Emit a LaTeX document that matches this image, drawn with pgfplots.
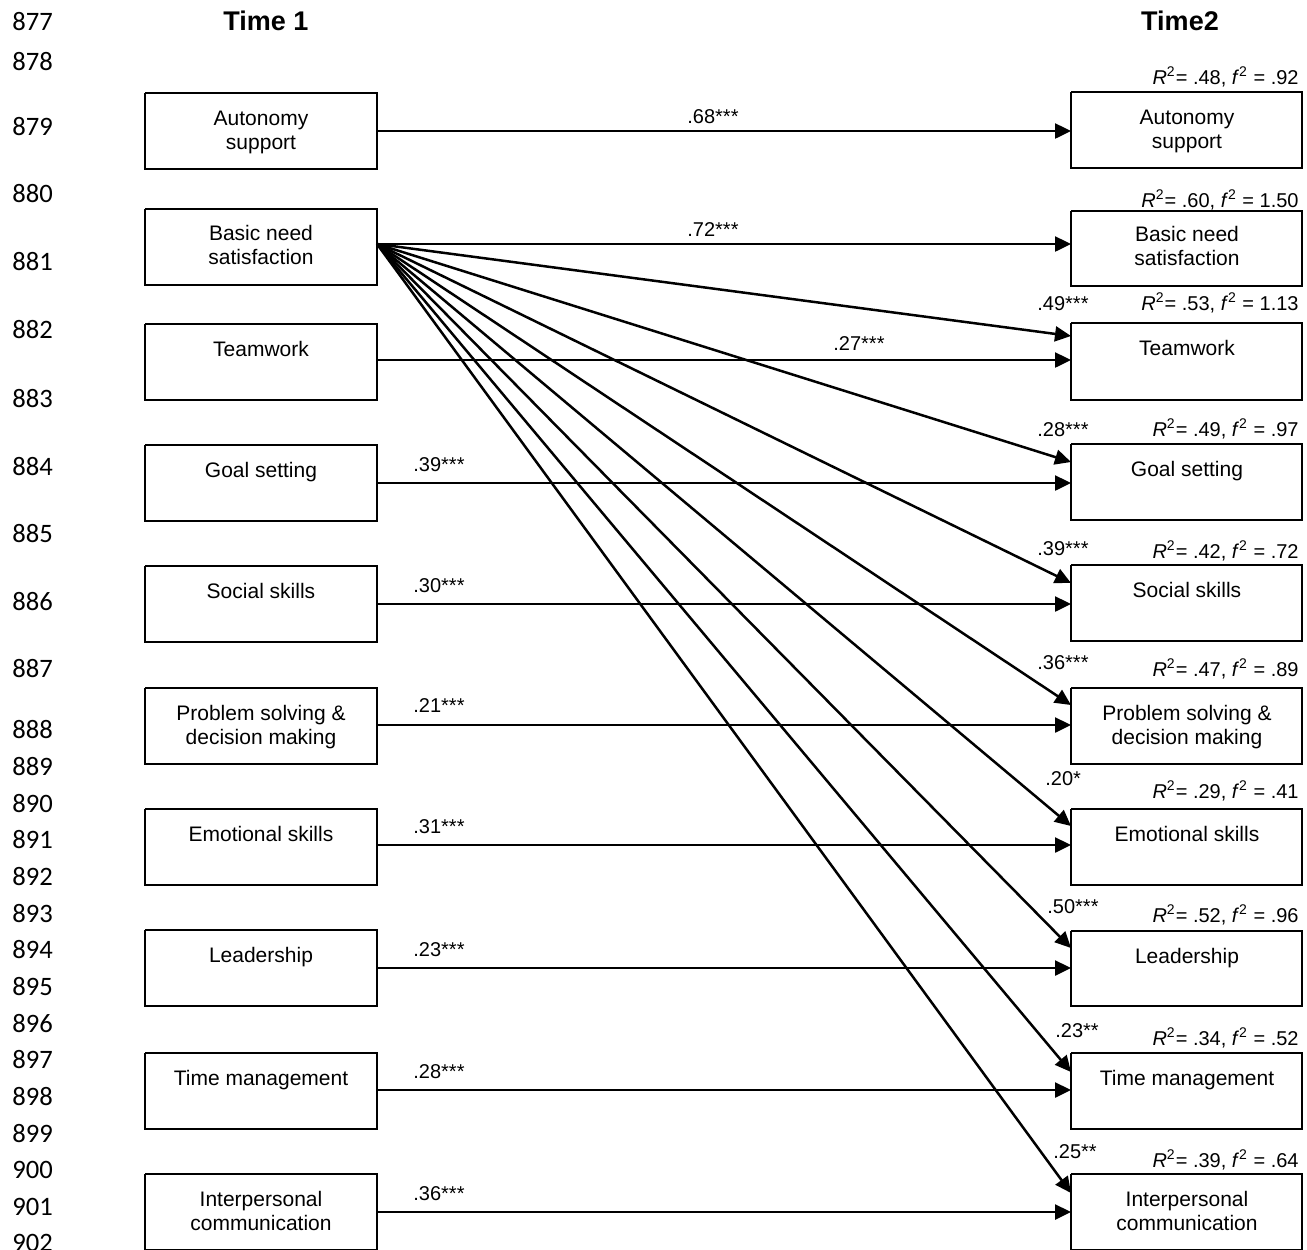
\documentclass[border=0pt]{standalone}
\usepackage{pgfplots}
\pgfplotsset{compat=1.18}
\usetikzlibrary{arrows.meta}
\usepackage{fontspec}
\setmainfont{Liberation Sans}
\newfontfamily\lnfont{Carlito}
\newcommand{\lbl}{\fontsize{10.5}{12}\selectfont}
\newcommand{\cf}{\fontsize{10}{12}\selectfont}
\newcommand{\lnf}{\lnfont\fontsize{13.3}{16}\selectfont}
\newcommand{\ttl}{\bfseries\fontsize{13.5}{16}\selectfont}
\tikzset{
  boxst/.style={draw=black, line width=0.8pt, line join=miter},
  arrst/.style={draw=black, line width=1.25pt, -{Triangle[length=8pt,width=7.5pt]}},
}
\newcommand{\bx}[4]{\addplot[boxst] coordinates {(#1,#3) (#2,#3) (#2,#4) (#1,#4) (#1,#3)};}
\newcommand{\ar}[4]{\addplot[arrst] coordinates {(#1,#2) (#3,#4)};}
\newcommand{\tx}[4]{\node[anchor=#1, inner sep=0pt, font=#2] at (axis cs:#3) {#4};}
\newcommand{\rsq}[3]{\node[anchor=base east, inner sep=0pt, font=\cf] at (axis cs:1299,#1) {\textit{R}\textsuperscript{2}= #2, \textit{f}\textsuperscript{2} = #3};}
\begin{document}
\begin{tikzpicture}
\useasboundingbox (0,0) rectangle (653.5pt,624.5pt);
\clip (0,0) rectangle (653.5pt,624.5pt);
\begin{axis}[at={(0,0)}, anchor=south west, scale only axis,
  width=653.5pt, height=624.5pt, xmin=0, xmax=1307, ymin=0, ymax=1249,
  y dir=reverse, hide axis, clip=false]

% line numbers
\tx{base west}{\lnf}{12,30}{877}
\tx{base west}{\lnf}{12,70}{878}
\tx{base west}{\lnf}{12,135}{879}
\tx{base west}{\lnf}{12,202}{880}
\tx{base west}{\lnf}{12,270}{881}
\tx{base west}{\lnf}{12,338}{882}
\tx{base west}{\lnf}{12,407}{883}
\tx{base west}{\lnf}{12,475}{884}
\tx{base west}{\lnf}{12,542}{885}
\tx{base west}{\lnf}{12,610}{886}
\tx{base west}{\lnf}{12,677}{887}
\tx{base west}{\lnf}{12,738}{888}
\tx{base west}{\lnf}{12,775}{889}
\tx{base west}{\lnf}{12,812}{890}
\tx{base west}{\lnf}{12,848}{891}
\tx{base west}{\lnf}{12,885}{892}
\tx{base west}{\lnf}{12,922}{893}
\tx{base west}{\lnf}{12,958}{894}
\tx{base west}{\lnf}{12,995}{895}
\tx{base west}{\lnf}{12,1032}{896}
\tx{base west}{\lnf}{12,1068}{897}
\tx{base west}{\lnf}{12,1105}{898}
\tx{base west}{\lnf}{12,1142}{899}
\tx{base west}{\lnf}{12,1178}{900}
\tx{base west}{\lnf}{12,1215}{901}
\tx{base west}{\lnf}{12,1251}{902}

% titles
\tx{base}{\ttl}{266,30}{Time 1}
\tx{base}{\ttl}{1180,30}{Time2}

% left boxes
\bx{145}{377}{93}{169}
\bx{145}{377}{209}{285}
\bx{145}{377}{324}{400}
\bx{145}{377}{445}{521}
\bx{145}{377}{566}{642}
\bx{145}{377}{688}{764}
\bx{145}{377}{809}{885}
\bx{145}{377}{930}{1006}
\bx{145}{377}{1053}{1129}
\bx{145}{377}{1174}{1250}
% right boxes
\bx{1071}{1302}{92}{168}
\bx{1071}{1302}{211}{286}
\bx{1071}{1302}{323}{400}
\bx{1071}{1302}{444}{520}
\bx{1071}{1302}{565}{641}
\bx{1071}{1302}{688}{764}
\bx{1071}{1302}{809}{885}
\bx{1071}{1302}{931}{1006}
\bx{1071}{1302}{1053}{1129}
\bx{1071}{1302}{1174}{1250}

% box labels (left, center x=261)
\tx{base}{\lbl}{261,125}{Autonomy}
\tx{base}{\lbl}{261,149}{support}
\tx{base}{\lbl}{261,240}{Basic need}
\tx{base}{\lbl}{261,264}{satisfaction}
\tx{base}{\lbl}{261,356}{Teamwork}
\tx{base}{\lbl}{261,477}{Goal setting}
\tx{base}{\lbl}{261,598}{Social skills}
\tx{base}{\lbl}{261,720}{Problem solving \&}
\tx{base}{\lbl}{261,744}{decision making}
\tx{base}{\lbl}{261,841}{Emotional skills}
\tx{base}{\lbl}{261,962}{Leadership}
\tx{base}{\lbl}{261,1085}{Time management}
\tx{base}{\lbl}{261,1206}{Interpersonal}
\tx{base}{\lbl}{261,1230}{communication}
% right labels (center x=1187)
\tx{base}{\lbl}{1187,124}{Autonomy}
\tx{base}{\lbl}{1187,148}{support}
\tx{base}{\lbl}{1187,241}{Basic need}
\tx{base}{\lbl}{1187,265}{satisfaction}
\tx{base}{\lbl}{1187,355}{Teamwork}
\tx{base}{\lbl}{1187,476}{Goal setting}
\tx{base}{\lbl}{1187,597}{Social skills}
\tx{base}{\lbl}{1187,720}{Problem solving \&}
\tx{base}{\lbl}{1187,744}{decision making}
\tx{base}{\lbl}{1187,841}{Emotional skills}
\tx{base}{\lbl}{1187,963}{Leadership}
\tx{base}{\lbl}{1187,1085}{Time management}
\tx{base}{\lbl}{1187,1206}{Interpersonal}
\tx{base}{\lbl}{1187,1230}{communication}

% horizontal stability paths
\ar{377}{131}{1071}{131}
\ar{377}{244}{1071}{244}
\ar{377}{360}{1071}{360}
\ar{377}{483}{1071}{483}
\ar{377}{604}{1071}{604}
\ar{377}{725}{1071}{725}
\ar{377}{845}{1071}{845}
\ar{377}{968}{1071}{968}
\ar{377}{1090}{1071}{1090}
\ar{377}{1212}{1071}{1212}
% cross-lagged paths from basic need satisfaction
\ar{377}{244}{1071}{336}
\ar{377}{244}{1071}{462}
\ar{377}{244}{1071}{583}
\ar{377}{244}{1071}{705}
\ar{377}{244}{1071}{826}
\ar{377}{244}{1071}{948}
\ar{377}{244}{1071}{1072}
\ar{377}{244}{1071}{1193}

% coefficients on horizontal paths
\tx{base west}{\cf}{687,123}{.68***}
\tx{base west}{\cf}{687,236}{.72***}
\tx{base west}{\cf}{833,350}{.27***}
\tx{base west}{\cf}{413,471}{.39***}
\tx{base west}{\cf}{413,592}{.30***}
\tx{base west}{\cf}{413,712}{.21***}
\tx{base west}{\cf}{413,833}{.31***}
\tx{base west}{\cf}{413,956}{.23***}
\tx{base west}{\cf}{413,1078}{.28***}
\tx{base west}{\cf}{413,1200}{.36***}
% coefficients on cross-lagged paths
\tx{base west}{\cf}{1037,310}{.49***}
\tx{base west}{\cf}{1037,436}{.28***}
\tx{base west}{\cf}{1037,555}{.39***}
\tx{base west}{\cf}{1037,669}{.36***}
\tx{base west}{\cf}{1045,785}{.20*}
\tx{base west}{\cf}{1047,913}{.50***}
\tx{base west}{\cf}{1055,1037}{.23**}
\tx{base west}{\cf}{1053,1158}{.25**}

% R2 labels
\rsq{84}{.48}{.92}
\rsq{207}{.60}{1.50}
\rsq{310}{.53}{1.13}
\rsq{436}{.49}{.97}
\rsq{558}{.42}{.72}
\rsq{676}{.47}{.89}
\rsq{798}{.29}{.41}
\rsq{922}{.52}{.96}
\rsq{1045}{.34}{.52}
\rsq{1167}{.39}{.64}
\end{axis}
\end{tikzpicture}
\end{document}
